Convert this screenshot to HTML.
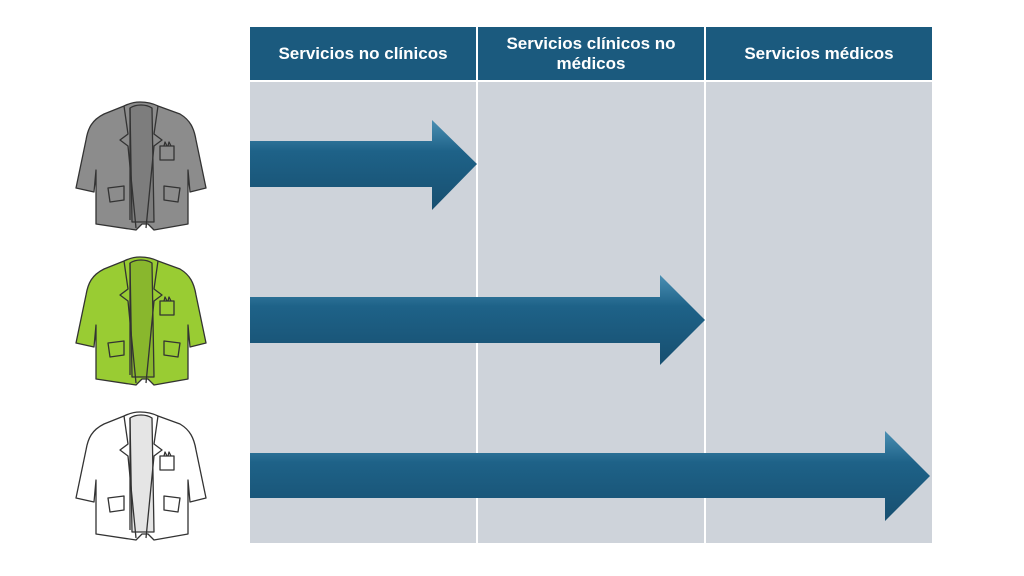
<!DOCTYPE html>
<html><head><meta charset="utf-8"><style>
body{margin:0;width:1024px;height:576px;background:#fff;position:relative;overflow:hidden;font-family:"Liberation Sans",sans-serif}
.h{position:absolute;top:27px;height:53px;background:#1b5a7e;color:#fff;font-weight:bold;font-size:17px;display:flex;align-items:center;justify-content:center;text-align:center;line-height:20px}
.b{position:absolute;top:82px;height:461px;background:#ced3da}
</style></head><body>
<div class="h" style="left:250px;width:226px">Servicios no clínicos</div>
<div class="h" style="left:478px;width:226px">Servicios clínicos no<br>médicos</div>
<div class="h" style="left:706px;width:226px">Servicios médicos</div>
<div class="b" style="left:250px;width:226px"></div>
<div class="b" style="left:478px;width:226px"></div>
<div class="b" style="left:706px;width:226px"></div>
<svg width="1024" height="576" style="position:absolute;left:0;top:0">
<defs>
<linearGradient id="g" x1="0" y1="0" x2="0" y2="1">
<stop offset="0" stop-color="#4a8fb3"/><stop offset="0.35" stop-color="#1e6288"/><stop offset="1" stop-color="#174f70"/></linearGradient>
<g id="coat" stroke="#333" stroke-width="1.3" stroke-linejoin="round">
<path d="M64,2 C58,2 52,4 48,6 L28,14 C16,20 12,28 10,40 L0,88 L18,92 L20,70 L20,124 L60,130 L66,124 L72,124 L78,130 L112,124 L112,70 L114,92 L130,88 L120,40 C118,28 114,20 104,14 L82,6 C78,4 72,2 64,2 Z"/>
<path d="M54,8 C60,4 70,4 76,8 L78,122 L56,122 Z" fill="#000" fill-opacity="0.1"/>
<path d="M48,6 L52,34 L44,40 L52,46 L60,128" fill="none"/>
<path d="M54,8 L54,120" fill="none"/>
<path d="M82,6 L78,34 L86,40 L78,46 L70,128" fill="none"/>
<path d="M84,46 L98,46 L98,60 L84,60 Z" fill="none"/>
<path d="M88,46 L89,42 L91,46 M92,46 L93,42 L95,46" fill="none"/>
<path d="M32,88 L48,86 L48,100 L34,102 Z" fill="none"/>
<path d="M88,86 L104,88 L102,102 L88,100 Z" fill="none"/>
</g>
</defs>
<use href="#coat" x="76" y="100" fill="#8c8c8c"/>
<use href="#coat" x="76" y="255" fill="#99cc33"/>
<use href="#coat" x="76" y="410" fill="#ffffff"/>
<polygon points="250,141 432,141 432,120 477,164 432,210 432,187 250,187" fill="url(#g)"/>
<polygon points="250,297 660,297 660,275 705,320 660,365 660,343 250,343" fill="url(#g)"/>
<polygon points="250,453 885,453 885,431 930,476 885,521 885,498 250,498" fill="url(#g)"/>
</svg>
</body></html>
